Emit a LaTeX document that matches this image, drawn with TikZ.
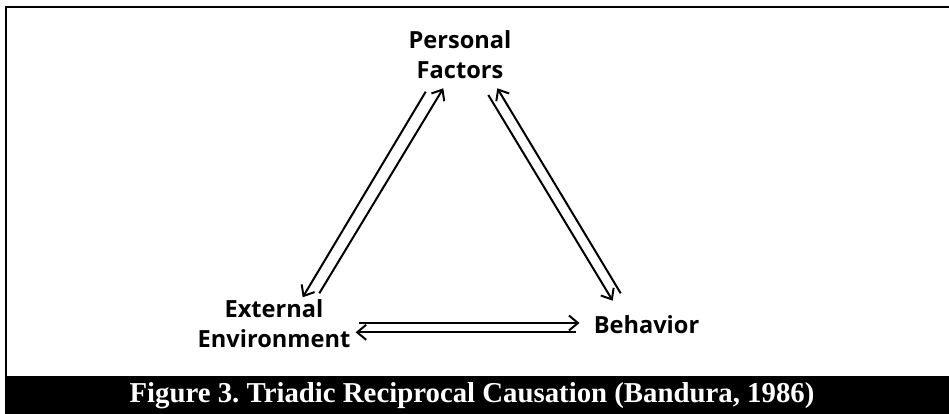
\documentclass[tikz,border=0pt]{standalone}
\usepackage{fontspec}
\setmainfont{Liberation Serif}
\newfontfamily\labelfont{Open Sans}[BoldFont={Open Sans Bold}]
\usetikzlibrary{arrows.meta}
\frenchspacing
\begin{document}
\begin{tikzpicture}[x=1pt,y=-1pt,
  lbl/.style={font=\labelfont\bfseries\fontsize{23.6}{30}\selectfont, align=center, inner sep=0pt},
  link/.style={line width=2pt, -{Straight Barb[length=9pt,width=15pt]}},
  frame/.style={line width=2pt},
]
\useasboundingbox (0,0) rectangle (949,414);

% outer frame and caption band
\draw[frame] (6,376) -- (6,7.5) -- (949,7.5);
\fill[black] (5,376) rectangle (949,414);
\node[text=white, inner sep=0pt, font=\bfseries\fontsize{28.8}{30}\selectfont]
  (cap) at (472,396) {Figure 3. Triadic Reciprocal Causation (Bandura, 1986)};

% the three factors
\node[lbl] (pf) at (460,55) {Personal\\Factors};
\node[lbl] (ee) at (274,324) {External\\Environment};
\node[lbl] (bh) at (646.5,325) {Behavior};

% end points of the paired arrows
\coordinate (pfA) at (425.7,91.7);  \coordinate (eeA) at (302.7,297.3);
\coordinate (eeB) at (319.3,293.3); \coordinate (pfB) at (443.3,88.3);
\coordinate (pfC) at (488.3,95);    \coordinate (bhC) at (612.7,300.7);
\coordinate (bhD) at (620.7,293.3); \coordinate (pfD) at (497.3,88.3);
\coordinate (eeE) at (359,323);     \coordinate (bhE) at (579.5,323);
\coordinate (bhF) at (576,332.3);   \coordinate (eeF) at (355.6,332.3);

% reciprocal influences
\draw[link] (pfA) -- (eeA);
\draw[link] (eeB) -- (pfB);
\draw[link] (pfC) -- (bhC);
\draw[link] (bhD) -- (pfD);
\draw[link] (eeE) -- (bhE);
\draw[link] (bhF) -- (eeF);
\end{tikzpicture}
\end{document}
